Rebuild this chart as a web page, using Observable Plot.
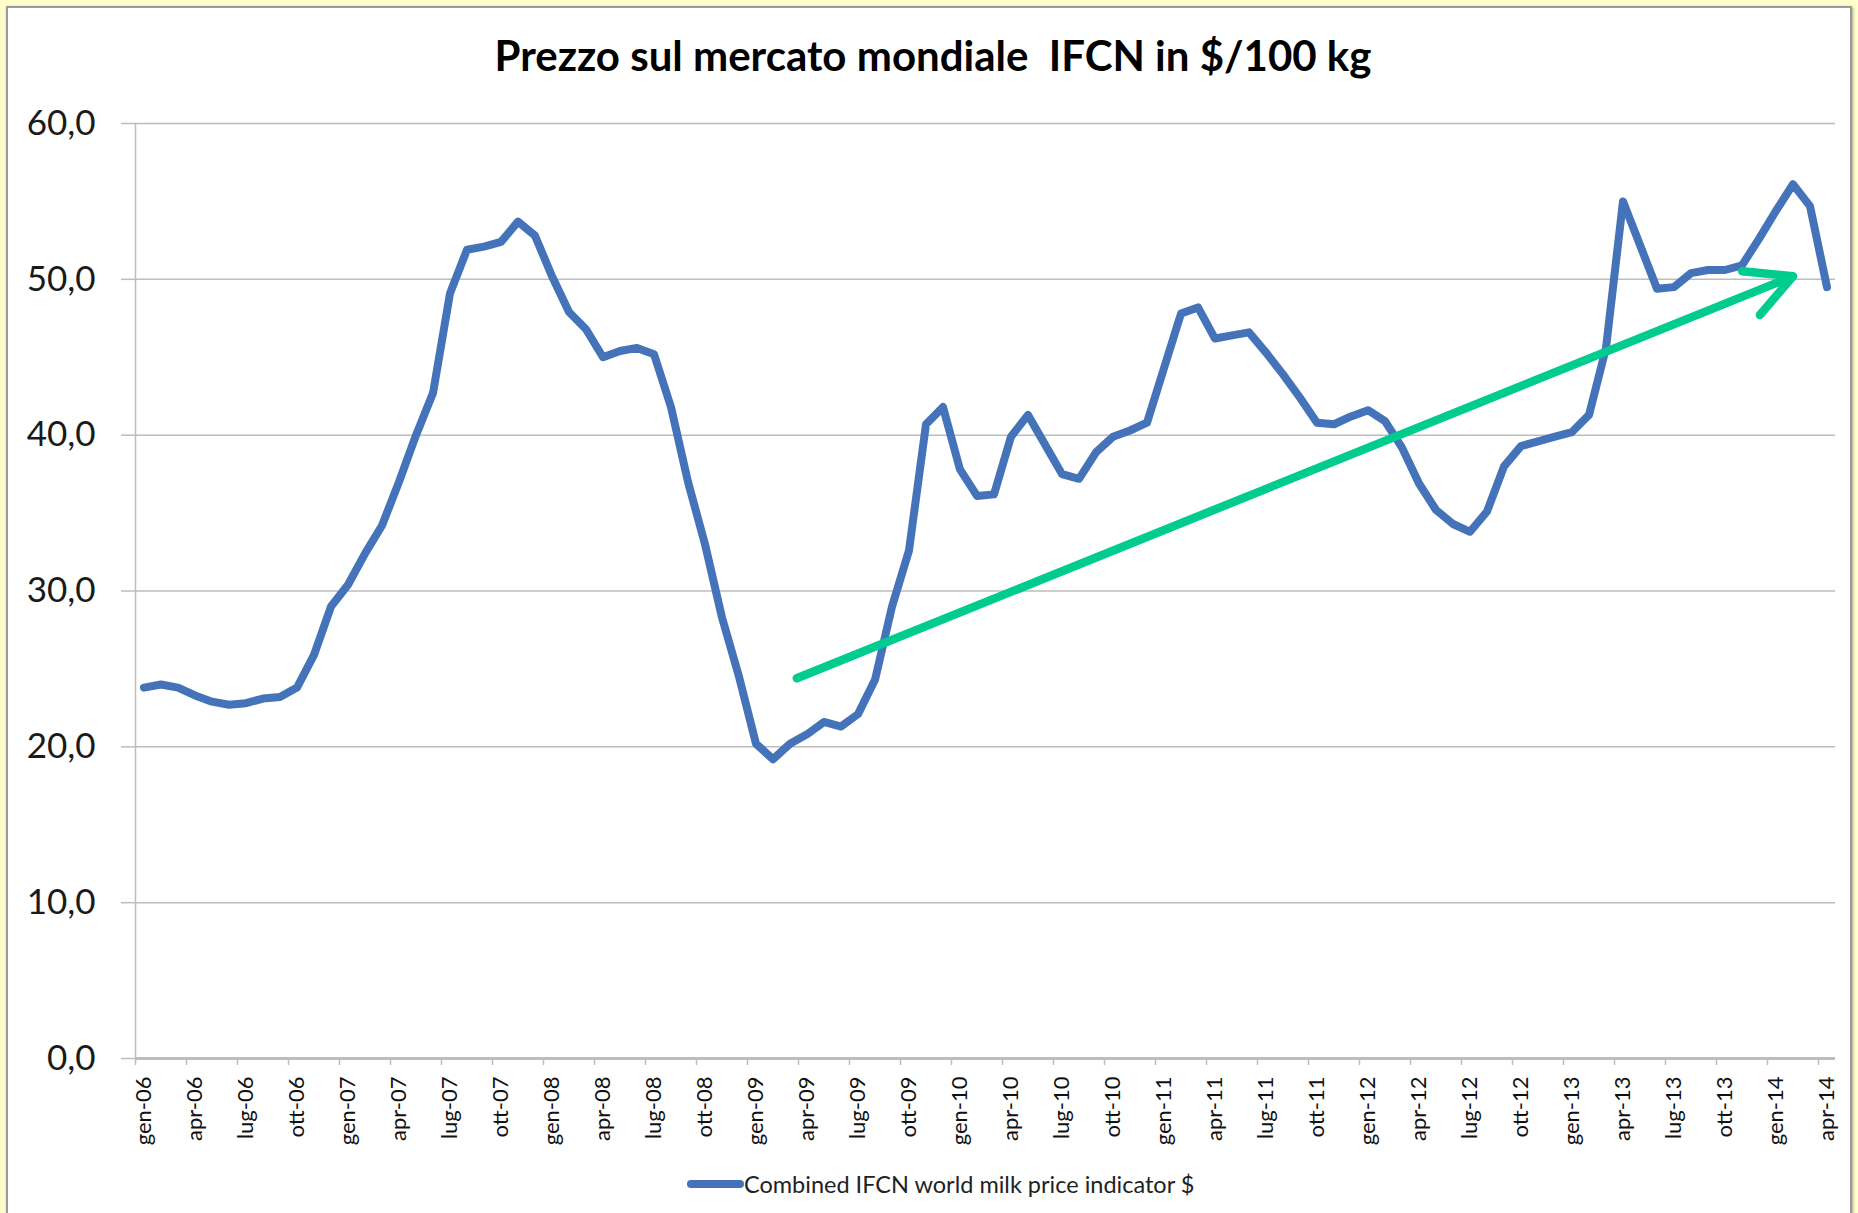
<!DOCTYPE html>
<html>
<head>
<meta charset="utf-8">
<script src="https://cdn.jsdelivr.net/npm/d3@7"></script>
<script src="https://cdn.jsdelivr.net/npm/@observablehq/plot@0.6"></script>
<style>
  html, body { margin: 0; padding: 0; width: 1858px; height: 1213px; overflow: hidden; background: #ffffcc; font-family: Lato, "Open Sans", sans-serif; }
  #panel { position: absolute; left: 6px; top: 6px; width: 1842px; height: 1230px; background: #ffffff; border: 2px solid #9a9a9a; box-shadow: 1px 1px 3px rgba(0,0,0,0.35); }
  #title { position: absolute; left: 4px; top: 30px; width: 1858px; text-align: center; font-weight: 700; font-size: 42px; color: #000; white-space: pre; }
  #chart { position: absolute; left: 0; top: 0; }
  #legend { position: absolute; left: 687px; top: 1170px; display: flex; align-items: center; font-size: 23.5px; color: #222; white-space: nowrap; }
  #legend .sw { display: inline-block; width: 57px; height: 8px; border-radius: 4px; background: #4473b9; }
</style>
</head>
<body>
<div id="panel"></div>
<div id="title">Prezzo sul mercato mondiale  IFCN in $/100 kg</div>
<div id="chart"></div>
<div id="legend"><span class="sw"></span><span id="legtext"></span></div>
<script>
// ---- data ----
const monthNames = ["gen","feb","mar","apr","mag","giu","lug","ago","set","ott","nov","dic"];
const years = ["06","07","08","09","10","11","12","13","14"];
const seriesName = "Combined IFCN world milk price indicator $";
// monthly values, gen-06 .. apr-14 ($/100 kg)
const price = [
  23.8, 24.0, 23.8, 23.3, 22.9, 22.7, 22.8, 23.1, 23.2, 23.8, 25.9, 29.0,   // 2006
  30.4, 32.4, 34.2, 37.0, 40.0, 42.7, 49.1, 51.9, 52.1, 52.4, 53.7, 52.8,   // 2007
  50.2, 47.9, 46.8, 45.0, 45.4, 45.6, 45.2, 41.8, 37.0, 33.0, 28.3, 24.5,   // 2008
  20.2, 19.2, 20.2, 20.8, 21.6, 21.3, 22.1, 24.3, 29.0, 32.6, 40.7, 41.8,   // 2009
  37.8, 36.1, 36.2, 39.9, 41.3, 39.4, 37.5, 37.2, 38.9, 39.9, 40.3, 40.8,   // 2010
  44.3, 47.8, 48.2, 46.2, 46.4, 46.6, 45.3, 43.9, 42.4, 40.8, 40.7, 41.2,   // 2011
  41.6, 40.9, 39.2, 36.9, 35.2, 34.3, 33.8, 35.1, 38.0, 39.3, 39.6, 39.9,   // 2012
  40.2, 41.3, 45.6, 55.0, 52.2, 49.4, 49.5, 50.4, 50.6, 50.6, 50.9, 52.6,   // 2013
  54.4, 56.1, 54.7, 49.5                                                   // 2014
];
const yTicks = [0, 10, 20, 30, 40, 50, 60];
// trend arrow: start / end, in month index and value
const trendMonth = [38.4, 97.0];
const trendValue = [24.4, 50.2];

// ---- derived tables ----
const categories = years.flatMap(y => monthNames.map(m => `${m}-${y}`)).slice(0, price.length);
const data = price.map((v, i) => ({i, label: categories[i], v}));
const labelTicks = d3.range(0, price.length, 3);
const boundaryTicks = d3.range(-0.5, price.length, 3);
const trend = [{x1: trendMonth[0], y1: trendValue[0], x2: trendMonth[1], y2: trendValue[1]}];

document.getElementById("legtext").textContent = seriesName;

const gridColor = "#bdbdbd";
const chart = Plot.plot({
  width: 1858,
  height: 1160,
  marginLeft: 135,
  marginRight: 23,
  marginTop: 123,
  marginBottom: 102,
  style: {background: "none", fontFamily: "Lato, 'Open Sans', sans-serif", color: "#000"},
  x: {type: "linear", domain: [-0.5, price.length - 0.5]},
  y: {domain: [0, 60]},
  marks: [
    Plot.gridY(yTicks, {stroke: gridColor, strokeOpacity: 1, strokeWidth: 1.5}),
    Plot.axisY(yTicks, {tickSize: 14, tickPadding: 26, fontSize: 35, stroke: gridColor, strokeWidth: 1.5, fill: "#1a1a1a",
      tickFormat: d => d.toFixed(1).replace(".", ","), label: null}),
    Plot.ruleX([-0.5], {stroke: gridColor, strokeWidth: 1.5}),
    Plot.ruleY([0], {stroke: gridColor, strokeWidth: 3}),
    Plot.axisX(boundaryTicks, {tickSize: 7, stroke: gridColor, strokeWidth: 1.5, tickFormat: () => "", label: null}),
    Plot.axisX(labelTicks, {tickSize: 0, tickPadding: 18, tickRotate: -90, fontSize: 22, fill: "#111",
      tickFormat: i => categories[i], label: null}),
    Plot.line(data, {x: "i", y: "v", stroke: "#4473b9", strokeWidth: 8, strokeLinejoin: "round", strokeLinecap: "round"}),
    Plot.arrow(trend, {x1: "x1", y1: "y1", x2: "x2", y2: "y2", stroke: "#00cc8f", strokeWidth: 8.5,
      headLength: 9, headAngle: 55, strokeLinecap: "round", strokeLinejoin: "round"})
  ]
});
document.getElementById("chart").appendChild(chart);
</script>
</body>
</html>
